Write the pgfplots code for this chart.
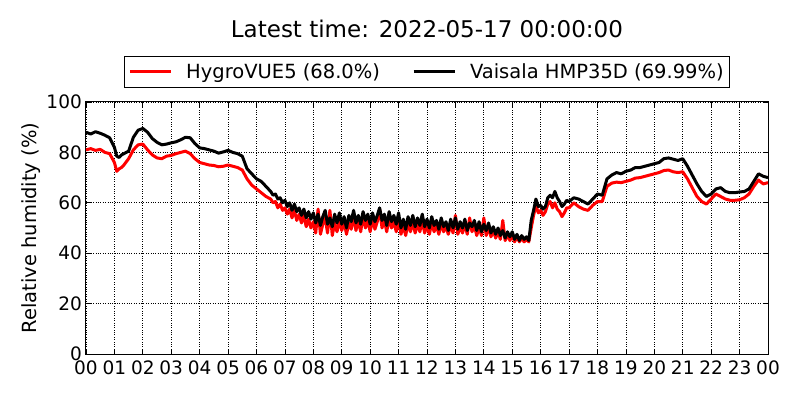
\documentclass[border=0pt]{standalone}
\usepackage{fontspec}
\setmainfont{DejaVu Sans}
\usepackage{pgfplots}
\pgfplotsset{compat=1.18}
\usepackage{pgfplotstable}

\pgfplotstableread{
t v
0.000 81.0
0.167 81.5
0.333 80.8
0.500 81.2
0.667 80.0
0.833 79.5
1.000 76.0
1.083 72.5
1.167 73.5
1.250 74.0
1.333 75.0
1.500 77.5
1.667 81.0
1.833 83.0
2.000 83.3
2.167 81.0
2.333 79.0
2.500 77.8
2.667 77.5
2.833 78.5
3.000 78.8
3.167 79.5
3.333 80.0
3.500 80.5
3.667 79.5
3.833 77.5
4.000 76.0
4.167 75.5
4.333 75.0
4.500 74.8
4.667 74.3
4.833 74.5
5.000 75.0
5.167 74.5
5.333 74.0
5.500 73.0
5.667 69.5
5.833 67.0
6.000 65.5
6.167 64.0
6.333 62.5
6.500 61.5
6.583 60.0
6.667 60.5
6.750 58.0
6.833 59.5
6.917 57.0
7.000 58.0
7.083 55.5
7.167 57.5
7.250 54.0
7.333 57.0
7.417 53.0
7.500 55.5
7.583 52.0
7.667 55.0
7.750 50.5
7.833 53.5
7.917 50.0
8.000 52.5
8.083 48.0
8.167 57.5
8.250 47.5
8.333 51.5
8.417 54.0
8.500 48.0
8.583 57.0
8.667 47.0
8.750 52.0
8.833 48.5
8.917 53.0
9.000 49.0
9.083 52.5
9.167 47.5
9.250 52.0
9.333 49.5
9.417 54.5
9.500 49.0
9.583 53.0
9.667 48.5
9.750 55.0
9.833 50.0
9.917 53.0
10.000 48.5
10.083 53.5
10.167 49.5
10.250 52.5
10.333 57.5
10.417 50.0
10.500 53.0
10.583 48.5
10.667 54.0
10.750 50.0
10.833 52.5
10.917 48.5
11.000 53.5
11.083 47.5
11.167 51.0
11.250 47.0
11.333 52.0
11.417 48.5
11.500 52.5
11.583 48.0
11.667 51.5
11.750 48.5
11.833 53.0
11.917 48.0
12.000 51.0
12.083 47.5
12.167 52.0
12.250 48.5
12.333 51.0
12.417 47.5
12.500 52.0
12.583 48.5
12.667 50.5
12.750 47.5
12.833 51.5
12.917 48.0
13.000 55.0
13.083 47.5
13.167 50.5
13.250 48.0
13.333 51.5
13.417 47.5
13.500 54.0
13.583 48.5
13.667 51.0
13.750 47.0
13.833 50.5
13.917 47.0
14.000 54.0
14.083 47.0
14.167 50.5
14.250 46.5
14.333 49.0
14.417 46.0
14.500 48.5
14.583 45.5
14.667 53.0
14.750 45.0
14.833 47.5
14.917 45.0
15.000 47.0
15.083 44.5
15.167 46.5
15.250 44.5
15.333 46.0
15.417 44.5
15.500 45.5
15.583 44.5
15.667 50.0
15.750 55.0
15.833 59.0
15.917 56.0
16.000 57.0
16.083 55.0
16.167 56.5
16.250 59.5
16.333 60.5
16.417 58.0
16.500 60.0
16.583 57.5
16.667 56.5
16.750 54.5
16.833 56.0
16.917 58.0
17.000 58.0
17.167 60.0
17.333 58.5
17.500 57.5
17.667 57.0
17.833 59.0
18.000 60.5
18.167 60.5
18.333 66.5
18.500 67.8
18.667 68.2
18.833 68.0
19.000 68.5
19.167 69.0
19.333 69.8
19.500 70.0
19.667 70.5
19.833 71.0
20.000 71.5
20.167 72.0
20.333 72.8
20.500 73.0
20.667 72.3
20.833 72.0
21.000 72.3
21.167 69.5
21.333 66.0
21.500 62.5
21.667 60.5
21.833 59.5
22.000 61.5
22.167 63.5
22.333 62.5
22.500 61.5
22.667 61.0
22.833 61.0
23.000 61.2
23.167 62.0
23.333 63.5
23.500 66.5
23.667 69.0
23.833 67.5
24.000 68.0
}\hygro

\pgfplotstableread{
t v
0.000 88.0
0.167 87.3
0.333 88.2
0.500 87.6
0.667 86.8
0.833 85.8
1.000 82.0
1.083 78.5
1.167 78.0
1.250 79.0
1.333 79.5
1.500 80.5
1.667 86.0
1.833 88.8
2.000 89.5
2.167 88.0
2.333 85.5
2.500 84.0
2.667 83.0
2.833 83.3
3.000 83.8
3.167 84.2
3.333 85.0
3.500 86.0
3.667 85.8
3.833 83.5
4.000 81.8
4.167 81.5
4.333 81.0
4.500 80.5
4.667 79.7
4.833 80.2
5.000 80.8
5.167 80.0
5.333 79.5
5.500 78.5
5.667 73.5
5.833 71.5
6.000 69.5
6.167 68.5
6.333 66.5
6.500 64.5
6.583 63.0
6.667 63.5
6.750 61.5
6.833 62.0
6.917 60.0
7.000 61.0
7.083 58.5
7.167 60.0
7.250 57.0
7.333 59.5
7.417 56.5
7.500 58.0
7.583 55.0
7.667 57.5
7.750 54.0
7.833 56.5
7.917 53.5
8.000 56.0
8.083 52.0
8.167 55.5
8.250 51.0
8.333 54.5
8.417 57.0
8.500 51.5
8.583 54.0
8.667 50.5
8.750 55.5
8.833 52.0
8.917 56.0
9.000 51.5
9.083 54.5
9.167 50.0
9.250 55.0
9.333 52.5
9.417 57.0
9.500 52.0
9.583 55.0
9.667 51.5
9.750 56.5
9.833 53.0
9.917 55.5
10.000 51.5
10.083 56.0
10.167 52.5
10.250 55.0
10.333 58.0
10.417 53.0
10.500 55.5
10.583 51.0
10.667 56.5
10.750 52.5
10.833 55.0
10.917 51.5
11.000 56.0
11.083 50.0
11.167 53.5
11.250 49.5
11.333 54.5
11.417 51.0
11.500 55.0
11.583 50.5
11.667 54.0
11.750 51.0
11.833 55.5
11.917 50.5
12.000 53.5
12.083 50.0
12.167 54.5
12.250 51.0
12.333 53.0
12.417 49.5
12.500 54.0
12.583 50.5
12.667 52.5
12.750 49.0
12.833 53.5
12.917 50.0
13.000 54.0
13.083 49.5
13.167 52.5
13.250 50.0
13.333 53.5
13.417 49.0
13.500 52.0
13.583 50.5
13.667 53.0
13.750 49.0
13.833 52.5
13.917 48.5
14.000 51.5
14.083 49.0
14.167 52.0
14.250 48.0
14.333 50.5
14.417 47.5
14.500 50.0
14.583 47.0
14.667 49.0
14.750 46.0
14.833 48.5
14.917 46.5
15.000 48.5
15.083 45.5
15.167 47.5
15.250 45.0
15.333 47.0
15.417 45.5
15.500 46.5
15.583 45.0
15.667 53.0
15.750 57.0
15.833 61.5
15.917 58.5
16.000 59.0
16.083 57.5
16.167 58.5
16.250 62.0
16.333 63.0
16.417 62.0
16.500 64.5
16.583 62.0
16.667 60.5
16.750 58.5
16.833 59.5
16.917 61.0
17.000 60.5
17.167 62.0
17.333 61.5
17.500 60.5
17.667 59.5
17.833 61.5
18.000 63.5
18.167 63.0
18.333 69.5
18.500 71.0
18.667 72.0
18.833 71.5
19.000 72.5
19.167 73.0
19.333 74.0
19.500 74.0
19.667 74.5
19.833 75.0
20.000 75.5
20.167 76.0
20.333 77.5
20.500 77.8
20.667 77.3
20.833 76.8
21.000 77.5
21.167 74.5
21.333 71.0
21.500 67.5
21.667 64.5
21.833 62.5
22.000 63.5
22.167 65.5
22.333 66.0
22.500 64.5
22.667 64.0
22.833 64.0
23.000 64.3
23.167 64.5
23.333 65.5
23.500 68.5
23.667 71.5
23.833 70.5
24.000 70.0
}\vaisala

\begin{document}
\begin{tikzpicture}
\useasboundingbox (-86bp,-46bp) rectangle (714bp,354bp);
\begin{axis}[
  at={(0,0)}, anchor=south west,
  scale only axis,
  width=682bp, height=252bp,
  xmin=0, xmax=24, ymin=0, ymax=100,
  xtick={0,...,24},
  xticklabels={00,01,02,03,04,05,06,07,08,09,10,11,12,13,14,15,16,17,18,19,20,21,22,23,00},
  ytick={0,20,40,60,80,100},
  /pgf/number format/assume math mode=true,
  ticklabel style={font=\fontsize{18.5bp}{20bp}\selectfont},
  xticklabel style={inner sep=2bp, yshift=-4.5bp},
  yticklabel style={inner sep=2bp, xshift=-2bp},
  tick align=inside,
  major tick length=5bp,
  tick style={black, line width=0.8bp},
  axis line style={black, line width=1bp},
  grid=major,
  major grid style={black, dotted, line width=0.7bp},
  ylabel={Relative humidity (\%)},
  ylabel style={font=\fontsize{19.5bp}{22bp}\selectfont, inner sep=0pt, yshift=4bp},
  title={Latest time: 2022-05-17 00:00:00},
  title style={font=\fontsize{23bp}{26bp}\selectfont, at={(0.5,1)}, anchor=center, yshift=67bp},
  legend columns=2,
  legend style={at={(0.5,1)}, anchor=center, yshift=30bp,
    draw=black, line width=1bp, inner xsep=4bp, inner ysep=5bp,
    font=\fontsize{19.5bp}{22bp}\selectfont,
    /tikz/every odd column/.append style={column sep=12bp},
    /tikz/every even column/.append style={column sep=30bp}},
  legend image code/.code={\draw[#1] (0bp,0bp) -- (41bp,0bp);},
]
\addplot[red, line width=3bp, line join=round] table[x=t, y=v] {\hygro};
\addlegendentry{HygroVUE5 (68.0\%)}
\addplot[black, line width=3bp, line join=round] table[x=t, y=v] {\vaisala};
\addlegendentry{Vaisala HMP35D (69.99\%)}
\end{axis}
\end{tikzpicture}
\end{document}
